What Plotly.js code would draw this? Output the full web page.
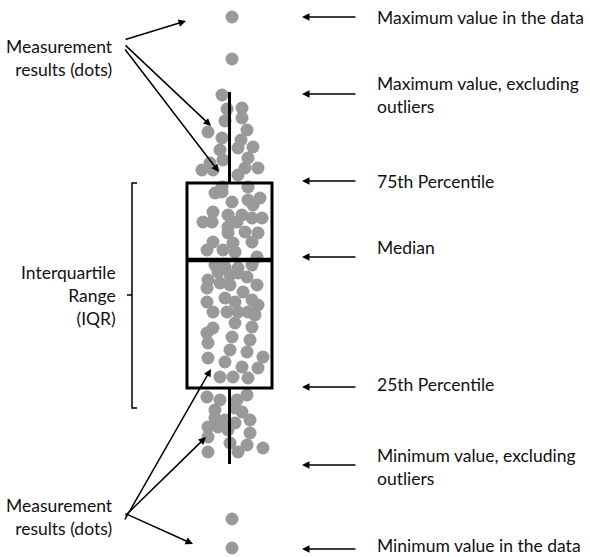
<!DOCTYPE html>
<html>
<head>
<meta charset="utf-8">
<script src="https://cdn.plot.ly/plotly-3.0.1.min.js"></script>
<style>html,body{margin:0;padding:0;background:#fff;}#chart{width:590px;height:557px;}</style>
</head>
<body>
<div id="chart"></div>
<script>
// ---- data ----
// horizontal jitter position of each measurement dot
var dotX = [222,227,242,225,242,208,247,222,241,253,220,238,248,210,223,202,258,245,213,238,222,248,
  215,222,232,248,260,253,213,203,212,228,242,252,262,228,237,245,258,228,252,233,213,207,223,235,257,
  215,225,238,252,218,208,220,230,238,247,207,230,257,243,207,225,235,252,258,213,227,238,248,255,213,235,252,207,232,208,250,230,247,208,225,242,263,220,233,248,258,
  207,220,237,247,215,235,242,215,225,235,250,208,218,228,250,208,230,247,238,263,208,
  232,232,232,232];
// measured value of each dot
var dotV = [462,448,449,436,439,425,427,419,417,410,407,409,399,394,397,387,389,389,387,382,370,370,
  364,365,355,357,359,352,345,335,335,342,342,339,339,330,335,325,324,324,315,314,315,307,307,305,300,
  292,290,289,292,285,277,274,282,284,280,269,272,272,265,255,259,255,257,252,245,245,245,245,242,229,234,230,224,220,214,217,207,205,199,195,190,200,180,180,179,189,
  160,157,157,162,147,149,145,139,137,134,137,130,130,127,124,120,114,112,105,109,105,
  540,498,38,9];
// box summary
var boxPos = 229.5, boxWidth = 85;
var q1 = 169, median = 297, q3 = 374, lowerFence = 93, upperFence = 465;
var bracketBottom = 149;

// labels
var rightLabels = ["Maximum value in the data", "Maximum value, excluding<br>outliers", "75th Percentile",
  "Median", "25th Percentile", "Minimum value, excluding<br>outliers", "Minimum value in the data"];
var rightLabelV = [540, 462, 376, 310, 173, 90, 8];
var rightArrowV = [540, 463, 376, 300, 170, 92, 8];
var leftLabel = "Measurement<br>results (dots)";
var iqrLabel = "Interquartile<br>Range<br>(IQR)";

// ---- drawing ----
var FONT = {family: "Lato, 'Open Sans', sans-serif", size: 17.5, color: "#111"};
var traces = [
  {type: "scatter", mode: "markers", x: dotX, y: dotV, xaxis: "x", yaxis: "y",
   marker: {size: 13, color: "#999999", line: {width: 0}}, hoverinfo: "skip"},
  {type: "box", x: [boxPos], q1: [q1], median: [median], q3: [q3],
   lowerfence: [lowerFence], upperfence: [upperFence], width: boxWidth, whiskerwidth: 0,
   boxpoints: false, fillcolor: "rgba(0,0,0,0)", line: {color: "#000", width: 3},
   xaxis: "x2", yaxis: "y2", hoverinfo: "skip"}
];

var ann = [];
for (var i = 0; i < rightLabels.length; i++) {
  var last = (i === rightLabels.length - 1);
  ann.push({x: 376, y: last ? 0 : rightLabelV[i], xref: "x", yref: "y", text: rightLabels[i], showarrow: false,
    xanchor: "left", yanchor: last ? "bottom" : "middle", align: "left", font: FONT, borderpad: 0});
  ann.push({x: 302, y: rightArrowV[i], ax: 357, ay: rightArrowV[i], xref: "x", yref: "y", axref: "x", ayref: "y",
    text: "", showarrow: true, arrowhead: 2, arrowsize: 1, arrowwidth: 1.5, arrowcolor: "#000"});
}
// left labels
ann.push({x: 115, y: 499, xref: "x", yref: "y", text: leftLabel, showarrow: false, xanchor: "right",
  yanchor: "middle", align: "right", font: FONT});
ann.push({x: 115, y: 40, xref: "x", yref: "y", text: leftLabel, showarrow: false, xanchor: "right",
  yanchor: "middle", align: "right", font: FONT});
ann.push({x: 118, y: 262, xref: "x", yref: "y", text: iqrLabel, showarrow: false, xanchor: "right",
  yanchor: "middle", align: "right", font: FONT});
// pointer arrows from left labels to dots: [tailX, tailV, headX, headV]
var ptr = [[124,517,186,536],[124,513,211,431],[124,509,219,385],
           [124,44,193,13],[124,40,206,120],[124,36,211,188]];
ptr.forEach(function(p){
  ann.push({x: p[2], y: p[3], ax: p[0], ay: p[1], xref: "x", yref: "y", axref: "x", ayref: "y",
    text: "", showarrow: true, arrowhead: 2, arrowsize: 1, arrowwidth: 1.5, arrowcolor: "#000"});
});

var shapes = [
  {type: "path", xref: "x", yref: "y",
   path: "M137," + q3 + " L132," + q3 + " L132," + bracketBottom + " L137," + bracketBottom,
   line: {color: "#000", width: 1.5}},
  {type: "line", xref: "x", yref: "y", x0: 127, x1: 132, y0: 262, y1: 262, line: {color: "#000", width: 1.5}},
  // thicker median stroke, as in the reference
  {type: "line", xref: "x2", yref: "y2", layer: "above", x0: boxPos - boxWidth / 2, x1: boxPos + boxWidth / 2,
   y0: median, y1: median, line: {color: "#000", width: 4.5}}
];

var ax = {range: [0, 590], visible: false, fixedrange: true};
var ay = {range: [0, 557], visible: false, fixedrange: true};
var layout = {
  width: 590, height: 557, margin: {l: 0, r: 0, t: 0, b: 0},
  paper_bgcolor: "#fff", plot_bgcolor: "#fff", showlegend: false,
  xaxis: ax, yaxis: ay,
  xaxis2: Object.assign({overlaying: "x"}, ax), yaxis2: Object.assign({overlaying: "y"}, ay),
  annotations: ann, shapes: shapes, font: FONT
};
Plotly.newPlot("chart", traces, layout, {staticPlot: true, displayModeBar: false});
</script>
</body>
</html>
